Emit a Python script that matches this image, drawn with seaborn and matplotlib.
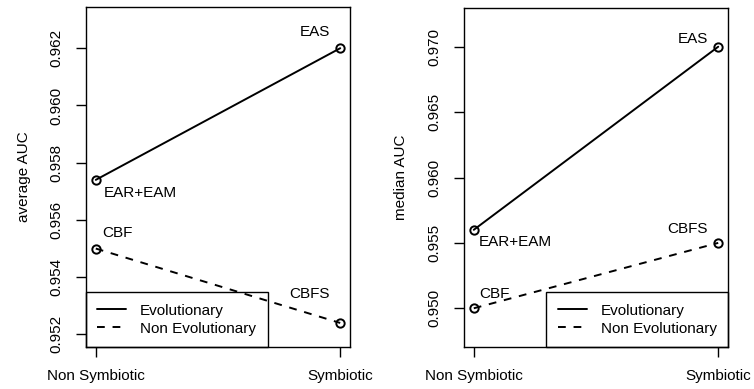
import matplotlib
matplotlib.use("Agg")
import matplotlib.pyplot as plt
import seaborn as sns
import pandas as pd
from matplotlib.lines import Line2D

categories = ["Non Symbiotic", "Symbiotic"]
avg_evol = [0.9574, 0.9620]
avg_nonevol = [0.9550, 0.9524]
med_evol = [0.9560, 0.9700]
med_nonevol = [0.9500, 0.9550]
avg_labels_evol = ["EAR+EAM", "EAS"]
avg_labels_nonevol = ["CBF", "CBFS"]
med_labels_evol = ["EAR+EAM", "EAS"]
med_labels_nonevol = ["CBF", "CBFS"]
avg_ticks = [0.952, 0.954, 0.956, 0.958, 0.960, 0.962]
med_ticks = [0.950, 0.955, 0.960, 0.965, 0.970]

sns.set_style("white")
plt.rcParams["font.family"] = ["Liberation Sans", "DejaVu Sans"]
plt.rcParams["font.size"] = 11
for k in ["text.color", "axes.labelcolor", "xtick.color", "ytick.color", "axes.edgecolor"]:
    plt.rcParams[k] = "black"

DASH = (0, (4, 4))
W, H = 754, 389
fig = plt.figure(figsize=(W / 100, H / 100), dpi=100)

def px_axes(x0, x1, y0, y1):
    return fig.add_axes([x0 / W, 1 - y1 / H, (x1 - x0) / W, (y1 - y0) / H])

axL = px_axes(86, 350, 7, 347)
axR = px_axes(464, 728, 8, 347)

def draw(ax, ev, nev, lev, lnev, ticks, ylim, ylabel, ann, legend_loc, lab_x):
    xs = [1, 2]
    df = pd.DataFrame({"x": xs * 2, "y": ev + nev,
                       "grp": ["Evolutionary"] * 2 + ["Non Evolutionary"] * 2})
    for g, ls in [("Evolutionary", "-"), ("Non Evolutionary", DASH)]:
        sub = df[df.grp == g]
        sns.lineplot(data=sub, x="x", y="y", ax=ax, color="black", linestyle=ls,
                     linewidth=1.4, marker="o", markersize=6, markerfacecolor="none",
                     markeredgecolor="black", markeredgewidth=1.4, legend=False)
    ax.set_xlim(0.96, 2.04)
    lo, hi = ylim
    ext = (hi - lo) * 0.04
    ax.set_ylim(lo - ext, hi + ext)
    ax.set_xticks(xs)
    ax.set_xticklabels(categories)
    ax.set_yticks(ticks)
    ax.set_yticklabels([f"{t:.3f}" for t in ticks], rotation=90, va="center")
    ax.tick_params(axis="both", direction="out", length=7, width=1, color="black",
                   labelsize=11, pad=9, bottom=True, left=True, labelcolor="black")
    for s in ax.spines.values():
        s.set_visible(True)
        s.set_color("black")
        s.set_linewidth(1)
    ax.set_xlabel("")
    ax.set_ylabel(ylabel, fontsize=11, color="black")
    ax.yaxis.set_label_coords(lab_x, 0.5)
    for (i, dx, dy, txt, val) in ann:
        ax.annotate(txt, (xs[i], val), xytext=(dx, dy), textcoords="offset pixels",
                    ha="center", va="center", fontsize=11, color="black")
    handles = [Line2D([], [], color="black", lw=1.4),
               Line2D([], [], color="black", lw=1.4, linestyle=DASH)]
    leg = ax.legend(handles, ["Evolutionary", "Non Evolutionary"], loc=legend_loc,
                    borderaxespad=0, fancybox=False, edgecolor="black",
                    fontsize=11, handlelength=1.9, handletextpad=0.9, borderpad=0.75,
                    labelspacing=0.25)
    frame = leg.get_frame()
    frame.set_linewidth(1)
    frame.set_facecolor("none")
    frame.set_alpha(None)
    for t in leg.get_texts():
        t.set_color("black")

annL = [(1, -25, 16, avg_labels_evol[1], avg_evol[1]),
        (0, 45, -13, avg_labels_evol[0], avg_evol[0]),
        (0, 22, 16, avg_labels_nonevol[0], avg_nonevol[0]),
        (1, -31, 29, avg_labels_nonevol[1], avg_nonevol[1])]
annR = [(1, -25, 8, med_labels_evol[1], med_evol[1]),
        (0, 42, -12, med_labels_evol[0], med_evol[0]),
        (0, 21, 14, med_labels_nonevol[0], med_nonevol[0]),
        (1, -31, 14, med_labels_nonevol[1], med_nonevol[1])]

draw(axL, avg_evol, avg_nonevol, avg_labels_evol, avg_labels_nonevol, avg_ticks,
     (0.952, 0.963), "average AUC", annL, "lower left", -0.208)
draw(axR, med_evol, med_nonevol, med_labels_evol, med_labels_nonevol, med_ticks,
     (0.948, 0.972), "median AUC", annR, "lower right", -0.212)

fig.savefig("out.png", dpi=100)
